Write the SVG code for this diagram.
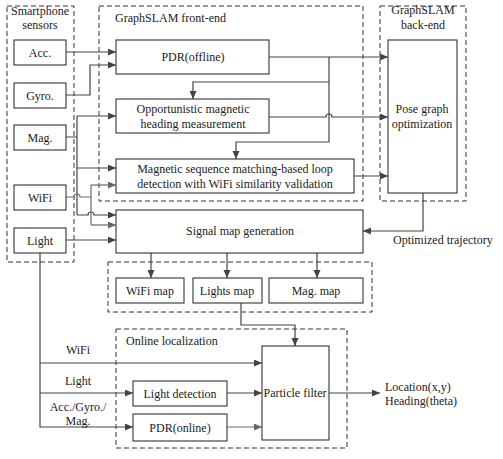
<svg xmlns="http://www.w3.org/2000/svg" width="503" height="459" viewBox="0 0 503 459" font-family="Liberation Serif, Times New Roman, DejaVu Serif, serif" font-size="12">
<defs>
<marker id="ah" markerUnits="userSpaceOnUse" markerWidth="9" markerHeight="8" refX="8" refY="3.5" orient="auto"><path d="M0,0 L8,3.5 L0,7 z" fill="#444"/></marker>
<marker id="ahg" markerUnits="userSpaceOnUse" markerWidth="9" markerHeight="8" refX="8" refY="3.5" orient="auto"><path d="M0,0 L8,3.5 L0,7 z" fill="#666"/></marker>
</defs>
<style>
text{font-family:'Liberation Serif','Times New Roman','DejaVu Serif',serif;font-size:12px;fill:#222}
.c{text-anchor:middle}
.box{fill:#fff;stroke:#333;stroke-width:1.1}
.grp{fill:none;stroke:#333;stroke-width:1;stroke-dasharray:5,3}
.ln{fill:none;stroke:#444;stroke-width:1.2}
.lg{fill:none;stroke:#6a6a6a;stroke-width:1.2}
.a{marker-end:url(#ah)}
.ag{marker-end:url(#ahg)}
</style>
<rect width="503" height="459" fill="#fff"/>
<g id="groups">
<rect class="grp" x="7" y="6" width="67" height="256"/>
<rect class="grp" x="99" y="6" width="264" height="195"/>
<rect class="grp" x="380" y="6" width="86" height="195"/>
<rect class="grp" x="108" y="262" width="264" height="50"/>
<rect class="grp" x="116" y="329" width="231" height="119"/>
<text class="c" x="40" y="15">Smartphone</text>
<text class="c" x="40" y="29">sensors</text>
<text x="115" y="22">GraphSLAM front-end</text>
<text class="c" x="423" y="14">GraphSLAM</text>
<text class="c" x="423" y="29">back-end</text>
<text x="126" y="345">Online localization</text>
</g>
<g id="connectors">
<path class="ln a" d="M66,52 H116"/>
<path class="ln a" d="M66,95 H90 V65 H116"/>
<path class="ln" d="M66,137 H77 M77,116 V215"/>
<path class="ln a" d="M77,116 H116"/>
<path class="ln a" d="M77,168 H116"/>
<path class="ln a" d="M77,215 H88 a3,3 0 0 1 6,0 H116"/>
<path class="lg" d="M66,197 H74 a3,3 0 0 1 6,0 H91 M91,185 V225"/>
<path class="lg ag" d="M91,185 H116"/>
<path class="lg ag" d="M91,225 H116"/>
<path class="ln a" d="M66,240 H116"/>
<path class="ln a" d="M269,57 H388"/>
<path class="ln a" d="M329,57 V142 H236 V159"/>
<path class="ln a" d="M329,82 H193 V99"/>
<path class="ln a" d="M269,117 H326 a3,3 0 0 1 6,0 H388"/>
<path class="ln a" d="M354,176 H388"/>
<path class="ln a" d="M423,193 V231 H363"/>
<path class="ln a" d="M151,253 V278"/>
<path class="ln a" d="M227,253 V278"/>
<path class="ln a" d="M317,253 V278"/>
<path class="ln a" d="M241,303 V325 H295 V346"/>
<path class="ln a" d="M40,253 V427 H133"/>
<path class="ln a" d="M40,363 H262"/>
<path class="ln a" d="M40,393 H133"/>
<path class="ln a" d="M227,393 H262"/>
<path class="lg ag" d="M227,427 H262"/>
<path class="ln a" d="M329,393 H380"/>
<text class="c" x="78" y="354">WiFi</text>
<text class="c" x="78" y="385">Light</text>
<text class="c" x="78" y="411">Acc./Gyro./</text>
<text class="c" x="78" y="425">Mag.</text>
<text x="393" y="244">Optimized trajectory</text>
<text x="385" y="391">Location(x,y)</text>
<text x="385" y="405">Heading(theta)</text>
</g>
<g id="acc"><rect class="box" x="14" y="40" width="52" height="25"/><text class="c" x="40" y="57">Acc.</text></g>
<g id="gyro"><rect class="box" x="14" y="83" width="52" height="25"/><text class="c" x="40" y="100">Gyro.</text></g>
<g id="mag"><rect class="box" x="14" y="125" width="52" height="25"/><text class="c" x="40" y="142">Mag.</text></g>
<g id="wifi"><rect class="box" x="14" y="185" width="52" height="25"/><text class="c" x="40" y="202">WiFi</text></g>
<g id="light"><rect class="box" x="14" y="228" width="52" height="25"/><text class="c" x="40" y="245">Light</text></g>
<g id="pdr-offline"><rect class="box" x="116" y="40" width="153" height="34"/><text class="c" x="193" y="61">PDR(offline)</text></g>
<g id="opportunistic"><rect class="box" x="116" y="99" width="153" height="34"/><text class="c" x="193" y="113">Opportunistic magnetic</text><text class="c" x="193" y="128">heading measurement</text></g>
<g id="loop-detection"><rect class="box" x="116" y="159" width="238" height="34"/><text class="c" x="235" y="173">Magnetic sequence matching-based loop</text><text class="c" x="235" y="188">detection with WiFi similarity validation</text></g>
<g id="pose-graph"><rect class="box" x="388" y="40" width="69" height="153"/><text class="c" x="422" y="113">Pose graph</text><text class="c" x="422" y="128">optimization</text></g>
<g id="signal-map"><rect class="box" x="116" y="210" width="247" height="43"/><text class="c" x="240" y="235">Signal map generation</text></g>
<g id="wifi-map"><rect class="box" x="116" y="278" width="68" height="25"/><text class="c" x="150" y="295">WiFi map</text></g>
<g id="lights-map"><rect class="box" x="193" y="278" width="69" height="25"/><text class="c" x="227" y="295">Lights map</text></g>
<g id="mag-map"><rect class="box" x="269" y="278" width="94" height="25"/><text class="c" x="316" y="295">Mag. map</text></g>
<g id="light-detection"><rect class="box" x="133" y="381" width="94" height="25"/><text class="c" x="180" y="398">Light detection</text></g>
<g id="pdr-online"><rect class="box" x="133" y="414" width="94" height="27"/><text class="c" x="180" y="432">PDR(online)</text></g>
<g id="particle-filter"><rect class="box" x="262" y="346" width="67" height="94"/><text class="c" x="295" y="397">Particle filter</text></g>
</svg>
